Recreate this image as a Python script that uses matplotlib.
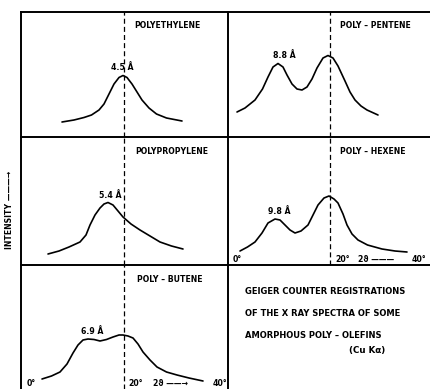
import matplotlib
matplotlib.use("Agg")
from matplotlib import pyplot as plt

plt.rcParams['font.family'] = ['DejaVu Sans']
plt.rcParams['font.weight'] = 'bold'

# curves: 2-theta (deg) vs intensity (arbitrary)
pe_x = [7.6, 10, 12, 13.5, 15, 16, 17, 18, 19, 19.8, 20.6, 21.6, 22.6, 23.6, 25, 26.5, 28.5, 31.6]
pe_y = [15, 17, 19.5, 22, 27, 33, 43, 53, 59.5, 61.5, 59.5, 53, 45, 37, 29, 23, 19, 16]

pent_x = [1.4, 3, 5, 6.5, 7.6, 8.6, 9.6, 10.6, 11.4, 12.4, 13.4, 14.4, 15.4, 16.4, 17.4, 18.6,
          19.6, 20.6, 21.6, 23, 24, 25, 26.2, 27.4, 29.6]
pent_y = [25, 29, 37, 48, 60, 70, 73.5, 70, 62, 53, 48, 47, 50, 58, 69, 79,
          81.5, 79, 71, 56, 45, 37, 31, 27, 22]

pp_x = [4.8, 7, 9, 11.2, 12.4, 13.2, 14.2, 15.2, 16, 16.8, 17.8, 18.8, 19.8, 21.4, 23.2, 25.2, 27.2, 29.5, 31.8]
pp_y = [11, 14, 18, 23, 30, 40, 50, 57, 61, 62.5, 60, 54, 48, 41, 35, 29, 23, 19, 16]

hex_x = [2, 3.5, 5, 6.4, 7.6, 9, 10, 11, 12, 13, 14.2, 15.6, 16.6, 17.6, 18.8, 19.8, 20.8,
         21.6, 22.6, 23.4, 24.4, 25.6, 27.5, 30.4, 33, 35.4]
hex_y = [14, 18, 23, 32, 42, 46, 45, 40, 35, 32, 34, 40, 50, 60, 67, 69, 66,
         62, 51, 40, 31, 25, 20, 16, 14, 13]

but_x = [3.6, 5.5, 7.2, 8.6, 9.8, 10.8, 11.8, 12.8, 14, 15.2, 16.5, 17.8, 19, 19.8, 20.8,
         21.8, 22.8, 23.8, 25.2, 26.6, 28.5, 30.6, 33, 35.8]
but_y = [10, 13, 17, 25, 36, 44, 49, 50, 49.5, 48, 49.5, 52, 54, 54, 53,
         51, 45, 37, 29, 22, 17, 14, 11, 8]

names = ["POLYETHYLENE", "POLY – PENTENE", "POLYPROPYLENE", "POLY – HEXENE", "POLY – BUTENE"]
spacings = ["4.5 Å", "8.8 Å", "5.4 Å", "9.8 Å", "6.9 Å"]
caption = ["GEIGER COUNTER REGISTRATIONS", "OF THE X RAY SPECTRA OF SOME", "AMORPHOUS POLY – OLEFINS"]

W, H = 430, 389
fig = plt.figure(figsize=(4.3, 3.89), dpi=100)

def panel(x0, x1, y0, y1):
    ax = fig.add_axes([x0 / W, 1 - y1 / H, (x1 - x0) / W, (y1 - y0) / H])
    ax.set_ylim(0, y1 - y0)
    if x0 < 100:
        ax.set_xlim(-0.6, 40.8)
    else:
        ax.set_xlim(-0.4, 40)
    for s in ['right', 'bottom']:
        ax.spines[s].set_visible(False)
    for s in ['left', 'top']:
        ax.spines[s].set_linewidth(1.4)
    ax.set_xticks([])
    ax.set_yticks([])
    ax.patch.set_alpha(0)
    return ax

ax1 = panel(21, 228, 12, 137)
ax2 = panel(228, 430, 12, 137)
ax3 = panel(21, 228, 137, 265)
ax4 = panel(228, 430, 137, 265)
ax5 = panel(21, 228, 265, 389)
ax6 = panel(228, 430, 265, 389)

fs = 5.6
curves = [(ax1, pe_x, pe_y), (ax2, pent_x, pent_y), (ax3, pp_x, pp_y), (ax4, hex_x, hex_y), (ax5, but_x, but_y)]
for ax, x, y in curves:
    ax.plot(x, y, color='black', lw=1.2, solid_capstyle='round', solid_joinstyle='round')
    ax.axvline(20, color='black', lw=0.9, ls=(0, (4, 2.5)))

# titles
ax1.text(22, 112, names[0], fontsize=fs, va='center')
ax2.text(22, 112, names[1], fontsize=fs, va='center')
ax3.text(22.2, 114, names[2], fontsize=fs, va='center')
ax4.text(22, 114, names[3], fontsize=fs, va='center')
ax5.text(22.6, 110, names[4], fontsize=fs, va='center')

# peak spacings
ax1.text(19.6, 65, spacings[0], fontsize=fs, ha='center', va='bottom')
ax2.text(10.8, 77, spacings[1], fontsize=fs, ha='center', va='bottom')
ax3.text(17.2, 65, spacings[2], fontsize=fs, ha='center', va='bottom')
ax4.text(9.8, 49, spacings[3], fontsize=fs, ha='center', va='bottom')
ax5.text(13.6, 53, spacings[4], fontsize=fs, ha='center', va='bottom')

# 2-theta scale
ax4.text(0.6, 1.5, "0°", fontsize=fs, va='bottom')
ax4.text(21, 1.5, "20°", fontsize=fs, va='bottom')
ax4.text(25.6, 1.5, "2ϑ ———", fontsize=fs, va='bottom')
ax4.text(36.4, 1.5, "40°", fontsize=fs, va='bottom')
ax5.text(0.6, 0.5, "0°", fontsize=fs, va='bottom')
ax5.text(20.8, 0.5, "20°", fontsize=fs, va='bottom')
ax5.text(25.8, 0.5, "2ϑ ——→", fontsize=fs, va='bottom')
ax5.text(37.8, 0.5, "40°", fontsize=fs, va='bottom')

for i, line in enumerate(caption):
    ax6.text(3, 97 - 21.5 * i, line, fontsize=6.0, va='center')
ax6.text(27.4, 39, "(Cu Kα)", fontsize=6.3, ha='center', va='center')

fig.text(10 / W, 1 - 210 / H, "INTENSITY ———→", rotation=90, fontsize=fs,
         ha='center', va='center')

fig.savefig("out.png", dpi=100)
